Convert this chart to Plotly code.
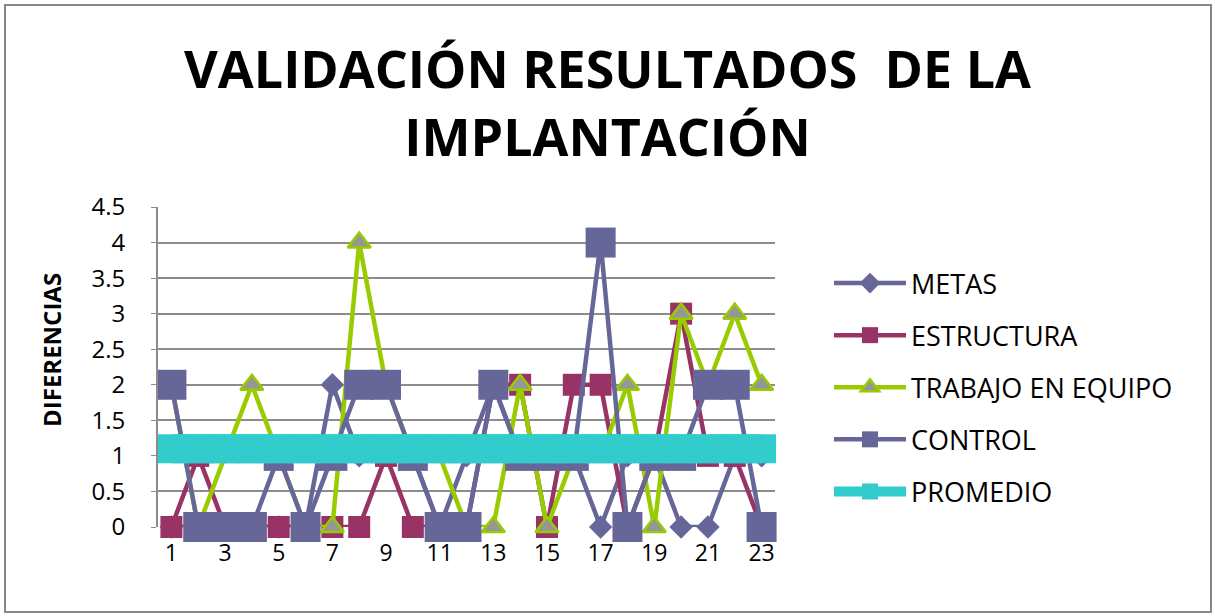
import plotly.graph_objects as go

x_vals = list(range(1, 24))
metas = [0, 0, 0, 0, 0, 0, 2, 1, 1, 1, 0, 1, 2, 1, 1, 1, 0, 1, 1, 0, 0, 1, 1]
estructura = [0, 1, 0, 0, 0, 0, 0, 0, 1, 0, 0, 0, 2, 2, 0, 2, 2, 0, 1, 3, 1, 1, 0]
trabajo = [2, 0, 1, 2, 1, 0, 0, 4, 2, 1, 1, 0, 0, 2, 0, 1, 1, 2, 0, 3, 2, 3, 2]
control = [2, 0, 0, 0, 1, 0, 1, 2, 2, 1, 0, 0, 2, 1, 1, 1, 4, 0, 1, 1, 2, 2, 0]
promedio = [1.1, 1.1, 1.1, 1.1, 1.1, 1.1, 1.1, 1.1, 1.1, 1.1, 1.1, 1.1,
            1.1, 1.1, 1.1, 1.1, 1.1, 1.1, 1.1, 1.1, 1.1, 1.1, 1.1]
x_ticks = [1, 3, 5, 7, 9, 11, 13, 15, 17, 19, 21, 23]
y_ticks = [0, 0.5, 1, 1.5, 2, 2.5, 3, 3.5, 4, 4.5]

PURPLE = "#666699"
MAROON = "#993366"
GREEN = "#99CC00"
GRAY = "#969696"
TEAL = "#33CCCC"

fig = go.Figure()
fig.add_trace(go.Scatter(x=x_vals, y=metas, name="METAS", mode="lines+markers",
                         legendgroup="a", cliponaxis=False,
                         line=dict(color=PURPLE, width=4.5),
                         marker=dict(symbol="diamond", size=18, color=PURPLE)))
fig.add_trace(go.Scatter(x=x_vals, y=estructura, name="ESTRUCTURA", mode="lines+markers",
                         legendgroup="b", cliponaxis=False,
                         line=dict(color=MAROON, width=4.5),
                         marker=dict(symbol="square", size=22, color=MAROON)))
fig.add_trace(go.Scatter(x=x_vals, y=trabajo, name="TRABAJO EN EQUIPO", mode="lines+markers",
                         legendgroup="c", cliponaxis=False,
                         line=dict(color=GREEN, width=4.5),
                         marker=dict(symbol="triangle-up", size=20, color=GRAY,
                                     line=dict(color=GREEN, width=2.5))))
fig.add_trace(go.Scatter(x=x_vals, y=control, name="CONTROL", mode="lines+markers",
                         legendgroup="d", cliponaxis=False,
                         line=dict(color=PURPLE, width=4.5),
                         marker=dict(symbol="square", size=30, color=PURPLE)))
fig.add_trace(go.Scatter(x=x_vals, y=promedio, name="PROMEDIO", mode="lines+markers",
                         legendgroup="e", cliponaxis=False,
                         line=dict(color=TEAL, width=29),
                         marker=dict(symbol="square", size=29, color=TEAL)))

# plot area in pixels: x 158..775, y 207..527
L, R, T, B = 158, 775, 207, 527
W, H = R - L, B - T
def px(xp):
    return (xp - L) / W
def py(yp):
    return (B - yp) / H

fig.add_shape(type="rect", xref="paper", yref="paper",
              x0=px(5), x1=px(1211), y0=py(612), y1=py(5),
              line=dict(color="#868686", width=2), fillcolor="rgba(0,0,0,0)",
              layer="below")

fig.add_annotation(text="DIFERENCIAS", xref="paper", yref="paper",
                   x=px(51), y=py(350), xanchor="center", yanchor="middle",
                   textangle=-90, showarrow=False,
                   font=dict(family="Open Sans, sans-serif", size=24,
                             color="black", weight="bold"))

fig.update_layout(
    width=1215, height=616,
    margin=dict(l=L, r=1215 - R, t=T, b=616 - B),
    paper_bgcolor="white", plot_bgcolor="white",
    title=dict(text="VALIDACIÓN RESULTADOS\u00a0 DE LA<br>IMPLANTACIÓN",
               x=0.5, xanchor="center", y=1 - 88 / 616, yanchor="middle",
               font=dict(family="Open Sans, sans-serif",
                         size=52, color="black", weight="bold")),
    xaxis=dict(range=[0.5, 23.5], tickmode="array", tickvals=x_ticks,
               ticktext=[str(v) for v in x_ticks], showgrid=False, zeroline=False,
               showline=False, ticks="", ticklabelstandoff=10,
               tickfont=dict(family="Open Sans, sans-serif", size=23, color="black")),
    yaxis=dict(range=[0, 4.5], tickmode="array", tickvals=y_ticks,
               ticktext=["0", "0.5", "1", "1.5", "2", "2.5", "3", "3.5", "4", "4.5"],
               showgrid=True, gridcolor="#8c8c8c", gridwidth=2, zeroline=False,
               showline=True, linecolor="#8c8c8c", linewidth=2,
               ticks="outside", ticklen=5, tickcolor="#8c8c8c", ticklabelstandoff=21,
               tickfont=dict(family="Open Sans, sans-serif", size=24, color="black")),
    legend=dict(x=px(829), xanchor="left", y=py(259), yanchor="top",
                tracegroupgap=14, itemwidth=72,
                font=dict(family="Open Sans, sans-serif", size=27, color="black"),
                bgcolor="rgba(0,0,0,0)"),
    showlegend=True,
)

fig.write_html("out.html", config={"displayModeBar": False},
               post_script="document.body.style.margin='0px';")
